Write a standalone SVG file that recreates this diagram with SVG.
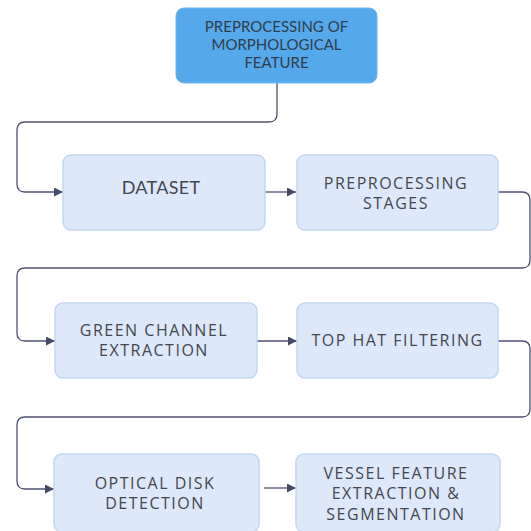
<svg xmlns="http://www.w3.org/2000/svg" width="531" height="531" viewBox="0 0 531 531">
  <defs>
    <marker id="arrow" viewBox="0 0 10 10" refX="10" refY="5" markerWidth="9" markerHeight="9" markerUnits="userSpaceOnUse" orient="auto">
      <path d="M0,0 L10,5 L0,10 z" fill="#454a66"/>
    </marker>
    <style>
      .box { fill: #dde8fb; stroke: #c3d6f1; stroke-width: 1.5; }
      .head { fill: #55a9ea; stroke: #6fb6ee; stroke-width: 1; }
      .lbl { font-family: "Open Sans", "Liberation Sans", sans-serif; font-size: 16px; fill: #44464c; text-anchor: middle; letter-spacing: 1.5px; }
      .hlbl { font-family: Lato, "Liberation Sans", sans-serif; font-size: 15px; fill: #2f3d4c; text-anchor: middle; }
      .edge { fill: none; stroke: #4d5170; stroke-width: 1.3; }
    </style>
  </defs>
  <rect width="531" height="531" fill="#ffffff"/>

  <g id="connectors">
    <path class="edge" d="M277,83 V114 Q277,122 269,122 H25 Q17,122 17,130 V184 Q17,192 25,192 H63" marker-end="url(#arrow)"/>
    <path class="edge" d="M265,192 H296" marker-end="url(#arrow)"/>
    <path class="edge" d="M498,192 H522 Q530,192 530,200 V260 Q530,268 522,268 H25 Q17,268 17,276 V333 Q17,341 25,341 H55" marker-end="url(#arrow)"/>
    <path class="edge" d="M257,341 H297" marker-end="url(#arrow)"/>
    <path class="edge" d="M498,341 H522 Q530,341 530,349 V409 Q530,417 522,417 H25 Q17,417 17,425 V481 Q17,489 25,489 H54" marker-end="url(#arrow)"/>
    <path class="edge" d="M264,488 H296" marker-end="url(#arrow)"/>
  </g>

  <g id="node-morphological">
    <rect class="head" x="176" y="8" width="201" height="75" rx="8"/>
    <text class="hlbl" x="276.5" y="32">PREPROCESSING OF</text>
    <text class="hlbl" x="276.5" y="50">MORPHOLOGICAL</text>
    <text class="hlbl" x="276.5" y="68">FEATURE</text>
  </g>

  <g id="node-dataset">
    <rect class="box" x="63" y="155" width="202" height="75" rx="8"/>
    <text class="lbl" x="161" y="194" style="font-family: Lato, 'Liberation Sans', sans-serif; font-size: 18px; letter-spacing: 0.3px;">DATASET</text>
  </g>

  <g id="node-preprocessing">
    <rect class="box" x="297" y="155" width="201" height="75" rx="8"/>
    <text class="lbl" x="396" y="189">PREPROCESSING</text>
    <text class="lbl" x="396" y="209">STAGES</text>
  </g>

  <g id="node-green">
    <rect class="box" x="55" y="303" width="202" height="75" rx="8"/>
    <text class="lbl" x="154" y="336">GREEN CHANNEL</text>
    <text class="lbl" x="154" y="356">EXTRACTION</text>
  </g>

  <g id="node-tophat">
    <rect class="box" x="297" y="303" width="201" height="75" rx="8"/>
    <text class="lbl" x="397.5" y="346">TOP HAT FILTERING</text>
  </g>

  <g id="node-optical">
    <rect class="box" x="54" y="454" width="205" height="78" rx="8"/>
    <text class="lbl" x="155" y="489">OPTICAL DISK</text>
    <text class="lbl" x="155" y="509">DETECTION</text>
  </g>

  <g id="node-vessel">
    <rect class="box" x="296" y="454" width="204" height="78" rx="8"/>
    <text class="lbl" x="396" y="479">VESSEL FEATURE</text>
    <text class="lbl" x="396" y="499">EXTRACTION &amp;</text>
    <text class="lbl" x="396" y="520">SEGMENTATION</text>
  </g>
</svg>
